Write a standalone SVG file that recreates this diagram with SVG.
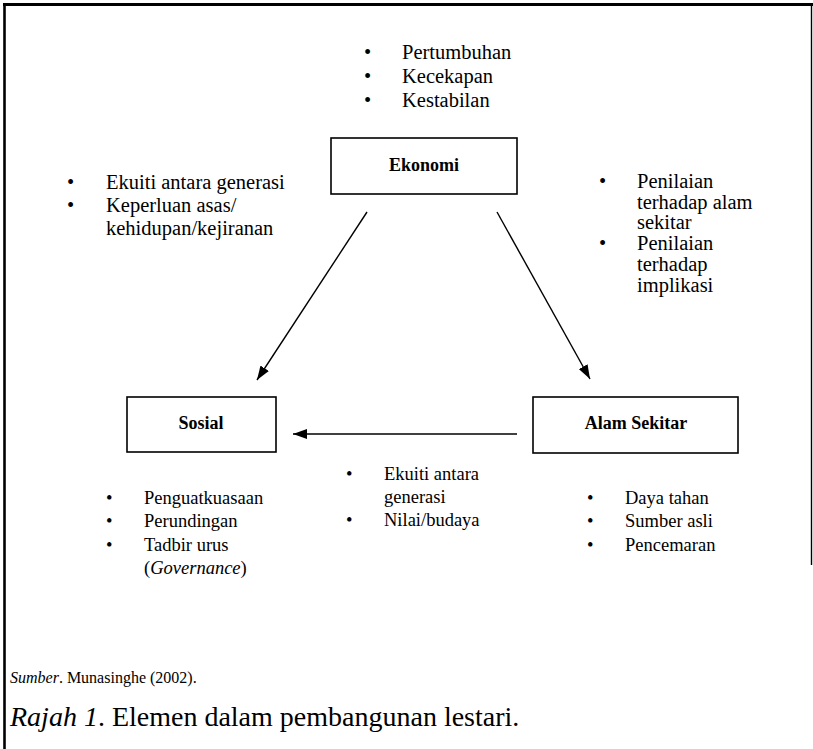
<svg xmlns="http://www.w3.org/2000/svg" width="813" height="749" viewBox="0 0 813 749">
<style>
text{font-family:"Liberation Serif","Times New Roman",serif;fill:#000}
.b{font-size:20.5px}
.s{font-size:18.5px}
.lbl{font-weight:bold;font-size:18px;text-anchor:middle}
.box{fill:#fff;stroke:#000;stroke-width:1.6}
.ln{stroke:#000;stroke-width:1.4;fill:none}
</style>
<defs>
<marker id="ah" viewBox="0 0 14 10" refX="14" refY="5" markerWidth="14" markerHeight="10" markerUnits="userSpaceOnUse" orient="auto">
<path d="M0,0 L14,5 L0,10 Z" fill="#000"/>
</marker>
</defs>
<rect width="813" height="749" fill="#fff"/>
<g id="frame">
<line x1="4.5" y1="3" x2="4.5" y2="749" stroke="#000" stroke-width="2.6"/>
<line x1="3" y1="4.5" x2="813" y2="4.5" stroke="#000" stroke-width="2.8"/>
<line x1="811.5" y1="4" x2="811.5" y2="565" stroke="#000" stroke-width="1.4"/>
</g>
<g id="connectors">
<line class="ln" x1="367" y1="212" x2="257" y2="380" marker-end="url(#ah)"/>
<line class="ln" x1="497" y1="212" x2="590" y2="379" marker-end="url(#ah)"/>
<line class="ln" x1="517" y1="434" x2="293" y2="434" marker-end="url(#ah)"/>
</g>
<g id="ekonomi">
<rect class="box" x="331" y="138" width="186" height="56"/>
<text class="lbl" x="424" y="171">Ekonomi</text>
</g>
<g id="sosial">
<rect class="box" x="127" y="397" width="149" height="55"/>
<text class="lbl" x="201" y="429">Sosial</text>
</g>
<g id="alam-sekitar">
<rect class="box" x="533" y="397" width="205" height="56"/>
<text class="lbl" x="636" y="429">Alam Sekitar</text>
</g>
<g id="top-list" class="b">
<text x="364" y="59">•</text><text x="402" y="59">Pertumbuhan</text>
<text x="364" y="83">•</text><text x="402" y="83">Kecekapan</text>
<text x="364" y="107">•</text><text x="402" y="107">Kestabilan</text>
</g>
<g id="left-list" class="b">
<text x="67" y="189">•</text><text x="106" y="189">Ekuiti antara generasi</text>
<text x="67" y="212">•</text><text x="106" y="212">Keperluan asas/</text>
<text x="106" y="235">kehidupan/kejiranan</text>
</g>
<g id="right-list" class="b">
<text x="599" y="188">•</text><text x="637" y="188">Penilaian</text>
<text x="637" y="209">terhadap alam</text>
<text x="637" y="229">sekitar</text>
<text x="599" y="250">•</text><text x="637" y="250">Penilaian</text>
<text x="637" y="271">terhadap</text>
<text x="637" y="292">implikasi</text>
</g>
<g id="sosial-list" class="s">
<text x="106" y="504">•</text><text x="144" y="504">Penguatkuasaan</text>
<text x="106" y="527">•</text><text x="144" y="527">Perundingan</text>
<text x="106" y="551">•</text><text x="144" y="551">Tadbir urus</text>
<text x="144" y="574">(<tspan font-style="italic">Governance</tspan>)</text>
</g>
<g id="middle-list" class="s">
<text x="346" y="480">•</text><text x="384" y="480">Ekuiti antara</text>
<text x="384" y="503">generasi</text>
<text x="346" y="526">•</text><text x="384" y="526">Nilai/budaya</text>
</g>
<g id="alam-list" class="s">
<text x="587" y="504">•</text><text x="625" y="504">Daya tahan</text>
<text x="587" y="527">•</text><text x="625" y="527">Sumber asli</text>
<text x="587" y="551">•</text><text x="625" y="551">Pencemaran</text>
</g>
<g id="source">
<text x="10" y="683" font-size="16"><tspan font-style="italic">Sumber</tspan>. Munasinghe (2002).</text>
</g>
<g id="caption">
<text x="10" y="726" font-size="28"><tspan font-style="italic">Rajah 1</tspan>. Elemen dalam pembangunan lestari.</text>
</g>
</svg>
